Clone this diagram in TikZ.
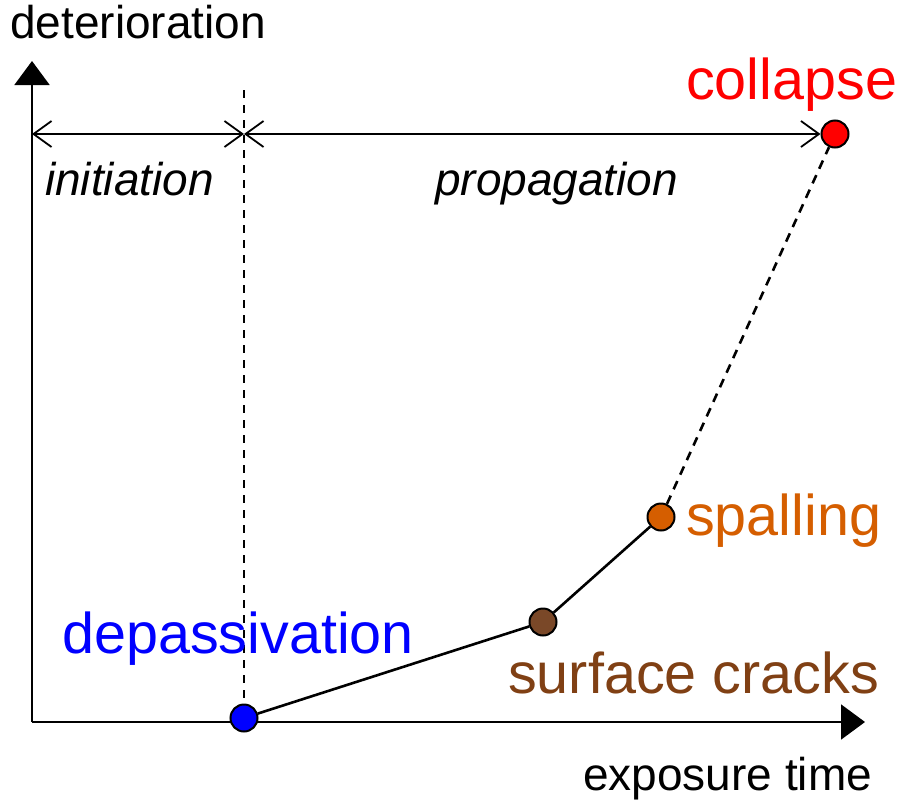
\documentclass[tikz,border=0pt]{standalone}
\usepackage{fontspec}
\setmainfont{Liberation Sans}
\usetikzlibrary{arrows.meta}
\definecolor{cred}{RGB}{255,0,0}
\definecolor{corange}{RGB}{213,94,0}
\definecolor{cbrown}{RGB}{128,64,20}
\definecolor{cbrownfill}{RGB}{122,72,40}
\definecolor{cblue}{RGB}{0,0,255}
\begin{document}
\begin{tikzpicture}[x=1pt,y=-1pt,
  txt/.style={inner sep=0pt,anchor=base west,font=\fontsize{46}{50}\selectfont},
  big/.style={inner sep=0pt,anchor=base west,font=\fontsize{57.5}{62}\selectfont},
  pt/.style={circle,draw=black,line width=2pt,minimum size=27pt,inner sep=0pt},
  ln/.style={line width=2.6pt},
  axis/.style={line width=2pt,-{Triangle[width=35pt,length=24pt]}},
  dim/.style={line width=1.8pt,{Straight Barb[length=18pt,width=26pt,line width=1.8pt]}-{Straight Barb[length=18pt,width=26pt,line width=1.8pt]}},
  dshv/.style={line width=1.8pt,dash pattern=on 8pt off 7pt},
  dshd/.style={line width=2.6pt,dash pattern=on 9pt off 7pt}]
\useasboundingbox (0,0) rectangle (900,806);
\coordinate (O) at (32,722);
\coordinate (ytip) at (32,61);
\coordinate (xtip) at (865,722);
\coordinate (dtop) at (244,90);
\coordinate (dimL) at (32,134);
\coordinate (dimM) at (244,134);
\draw[axis] (O) -- (ytip);
\draw[axis] (O) -- (xtip);
\node[pt,fill=cblue] (dep) at (244,718) {};
\node[pt,fill=cbrownfill] (sc) at (543,622) {};
\node[pt,fill=corange] (sp) at (661,517) {};
\node[pt,fill=cred] (col) at (835,134) {};
\draw[dshv] (dtop) -- (dep);
\draw[dim] (dimL) -- (dimM);
\draw[dim] (dimM) -- (col);
\draw[ln] (dep) -- (sc) -- (sp);
\draw[dshd] (sp) -- (col);
\node[txt] (lyaxis) at (10,38) {deterioration};
\node[txt] (lxaxis) at (583,790) {exposure time};
\node[txt,font=\fontsize{46}{50}\selectfont\itshape] (linit) at (45,195) {initiation};
\node[txt,font=\fontsize{46}{50}\selectfont\itshape] (lprop) at (435,195) {propagation};
\node[big,text=cred] (lcol) at (686,99) {collapse};
\node[big,text=corange] (lsp) at (686,535) {spalling};
\node[big,text=cblue] (ldep) at (62,653) {depassivation};
\node[big,text=cbrown] (lsc) at (508,693) {surface cracks};
\end{tikzpicture}
\end{document}
